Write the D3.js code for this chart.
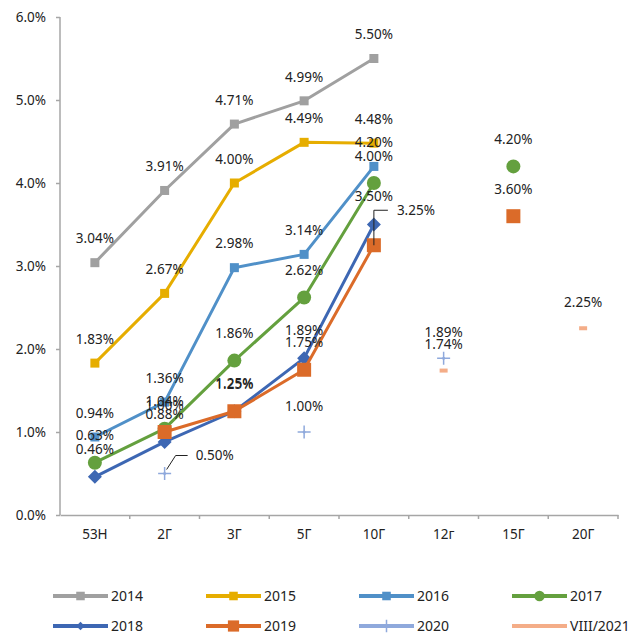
<!DOCTYPE html>
<html>
<head>
<meta charset="utf-8">
<script src="https://cdn.jsdelivr.net/npm/d3@7"></script>
<style>
  body { margin: 0; background: #fff; }
  svg text { font-family: "Noto Sans", "Open Sans", sans-serif; fill: #222; }
</style>
</head>
<body>
<svg id="chart" width="641" height="635"></svg>
<script>
// data, in percent
var categories = ["53H", "2Г", "3Г", "5Г", "10Г", "12г", "15Г", "20Г"]
var yTicks = [0, 1, 2, 3, 4, 5, 6]
var years = ["2014", "2015", "2016", "2017", "2018", "2019", "2020", "VIII/2021"]
var v2014 = [3.04, 3.91, 4.71, 4.99, 5.50, null, null, null]
var v2015 = [1.83, 2.67, 4.00, 4.49, 4.48, null, null, null]
var v2016 = [0.94, 1.36, 2.98, 3.14, 4.20, null, null, null]
var v2017 = [0.63, 1.04, 1.86, 2.62, 4.00, null, 4.20, null]
var v2018 = [0.46, 0.88, 1.25, 1.89, 3.50, null, null, null]
var v2019 = [null, 1.00, 1.25, 1.75, 3.25, null, 3.60, null]
var v2020 = [null, 0.50, null, 1.00, null, 1.89, null, null]
var v2021 = [null, null, null, null, null, 1.74, null, 2.25]

var values = [v2014, v2015, v2016, v2017, v2018, v2019, v2020, v2021]
var colors = ["#a0a0a0", "#e6ad00", "#5090c8", "#64a03e", "#3d67b3", "#db6b29", "#8fa9dc", "#f4ad88"]
var shapes = ["square", "square", "square", "circle", "diamond", "bigsquare", "plus", "dash"]

var margin = {left: 60, top: 17, right: 23, bottom: 120}
var W = 641, H = 635
var svg = d3.select("#chart")

var x = d3.scaleBand().domain(categories).range([margin.left, W - margin.right])
var y = d3.scaleLinear().domain([0, 6]).range([H - margin.bottom, margin.top])

// axes
var yAxis = svg.append("g")
    .attr("transform", "translate(" + margin.left + ",0)")
    .call(d3.axisLeft(y).tickValues(yTicks).tickSize(4).tickPadding(10)
        .tickFormat(function(d) { return d.toFixed(1) + "%" }))
var xAxis = svg.append("g")
    .attr("transform", "translate(0," + y(0) + ")")
    .call(d3.axisBottom(x).tickSize(0).tickPadding(14))
xAxis.selectAll(".tick")
    .append("line")
    .attr("x1", x.bandwidth() / 2).attr("x2", x.bandwidth() / 2)
    .attr("y1", 0).attr("y2", 4)
xAxis.append("line")
    .attr("x1", margin.left).attr("x2", margin.left)
    .attr("y1", 0).attr("y2", 4)

svg.selectAll(".domain, .tick line").attr("stroke", "#a6a6a6").attr("stroke-width", 1.5)
svg.selectAll(".tick text").attr("font-size", 13.5).attr("fill", "#222")
yAxis.select(".domain").attr("d", "M" + 0 + "," + y(6) + "V" + y(0))

function cx(i) { return x(categories[i]) + x.bandwidth() / 2 }

function drawMarker(g, shape, color, px, py, scale) {
    scale = scale || 1
    if (shape == "square") {
        var s = 9 * scale
        g.append("rect").attr("x", px - s / 2).attr("y", py - s / 2)
            .attr("width", s).attr("height", s).attr("fill", color)
    } else if (shape == "bigsquare") {
        var s = 14 * scale
        g.append("rect").attr("x", px - s / 2).attr("y", py - s / 2)
            .attr("width", s).attr("height", s).attr("fill", color)
    } else if (shape == "circle") {
        g.append("circle").attr("cx", px).attr("cy", py).attr("r", 7 * scale).attr("fill", color)
    } else if (shape == "diamond") {
        var r = 7 * scale
        g.append("path")
            .attr("d", "M" + px + "," + (py - r) + "L" + (px + r) + "," + py + "L" + px + "," + (py + r) + "L" + (px - r) + "," + py + "Z")
            .attr("fill", color)
    } else if (shape == "plus") {
        var r = 6.5 * scale
        g.append("path")
            .attr("d", "M" + (px - r) + "," + py + "H" + (px + r) + "M" + px + "," + (py - r) + "V" + (py + r))
            .attr("stroke", color).attr("stroke-width", 1.5).attr("fill", "none")
    } else if (shape == "dash") {
        g.append("rect").attr("x", px - 4).attr("y", py - 2)
            .attr("width", 8).attr("height", 4).attr("fill", color)
    }
}

var line = d3.line()
    .defined(function(d) { return d != null })
    .x(function(d, i) { return cx(i) })
    .y(function(d) { return y(d) })

var plot = svg.append("g")
values.forEach(function(vals, k) {
    var g = plot.append("g")
    g.append("path")
        .attr("d", line(vals))
        .attr("fill", "none")
        .attr("stroke", colors[k])
        .attr("stroke-width", 3)
        .attr("stroke-linejoin", "round")
        .attr("stroke-linecap", "round")
    vals.forEach(function(v, i) {
        if (v == null) return
        drawMarker(g, shapes[k], colors[k], cx(i), y(v))
    })
})

// data labels
var offsets = {square: 24, bigsquare: 27, circle: 27, diamond: 28, plus: 26, dash: 26}
var labels = svg.append("g")
values.forEach(function(vals, k) {
    vals.forEach(function(v, i) {
        if (v == null) return
        var px = cx(i), py = y(v)
        var lx = px, ly = py - offsets[shapes[k]], anchor = "middle"
        if (k == 5 && i == 4) {
            // leader line for 3.25%
            labels.append("path")
                .attr("d", "M" + px + "," + py + "V" + (py - 35) + "H" + (px + 14))
                .attr("stroke", "#222").attr("stroke-width", 1).attr("fill", "none")
            lx = px + 23; ly = py - 35; anchor = "start"
        }
        if (k == 6 && i == 1) {
            labels.append("path")
                .attr("d", "M" + (px + 2) + "," + (py - 4) + "L" + (px + 11) + "," + (py - 18) + "H" + (px + 23))
                .attr("stroke", "#222").attr("stroke-width", 1).attr("fill", "none")
            lx = px + 31; ly = py - 18; anchor = "start"
        }
        labels.append("text")
            .attr("x", lx).attr("y", ly)
            .attr("dy", "0.35em")
            .attr("text-anchor", anchor)
            .attr("font-size", 13.5)
            .text(v.toFixed(2) + "%")
    })
})

// legend
var legend = svg.append("g")
years.forEach(function(name, k) {
    var col = k % 4, row = Math.floor(k / 4)
    var lx = 53 + col * 153, ly = 596 + row * 30
    var g = legend.append("g")
    g.append("line")
        .attr("x1", lx).attr("x2", lx + 55)
        .attr("y1", ly).attr("y2", ly)
        .attr("stroke", colors[k]).attr("stroke-width", 4)
    if (shapes[k] != "dash") {
        var sc = shapes[k] == "bigsquare" ? 0.8 : (shapes[k] == "circle" ? 0.75 : 0.95)
        if (shapes[k] == "diamond") sc = 0.6
        drawMarker(g, shapes[k], colors[k], lx + 27.5, ly, sc)
    }
    g.append("text")
        .attr("x", lx + 58).attr("y", ly)
        .attr("dy", "0.35em")
        .attr("font-size", 14)
        .text(name)
})
</script>
</body>
</html>
